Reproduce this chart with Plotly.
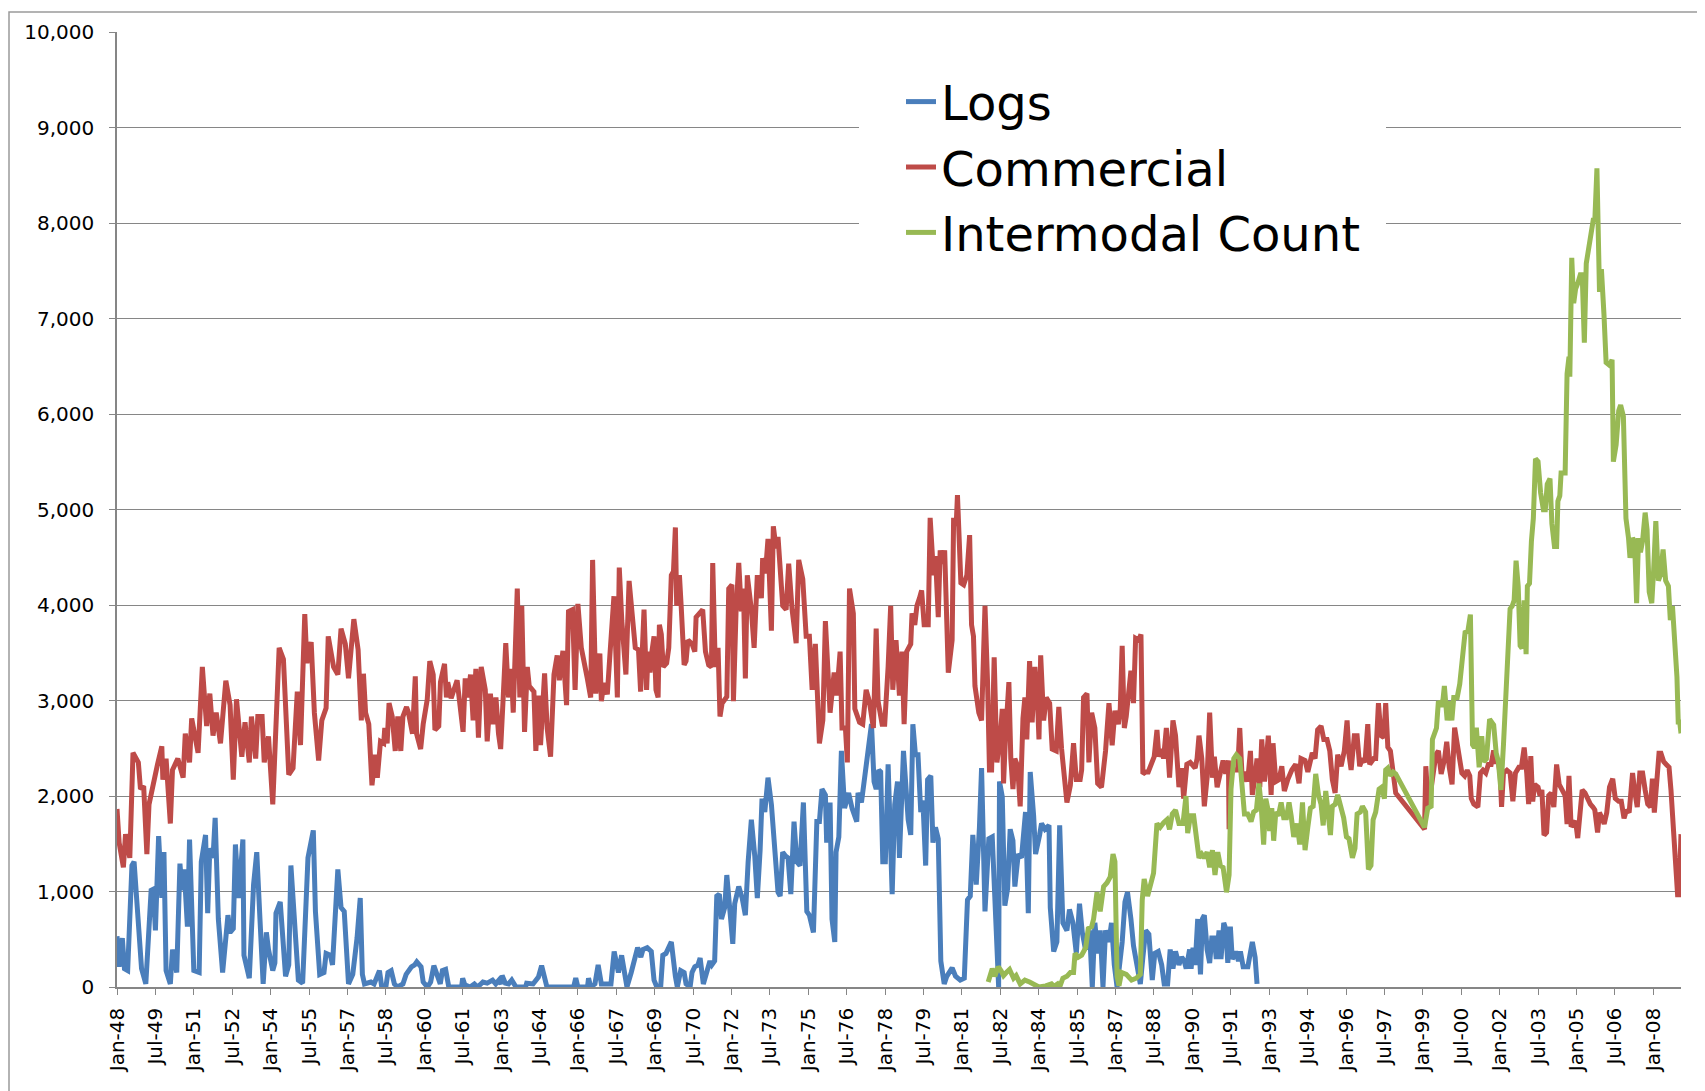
import plotly.graph_objects as go

# x positions are months counted from Jan-48 (0 = Jan-48, 18 = Jul-49, ...)
TICK_LABELS = ["Jan-48", "Jul-49", "Jan-51", "Jul-52", "Jan-54", "Jul-55", "Jan-57", "Jul-58",
               "Jan-60", "Jul-61", "Jan-63", "Jul-64", "Jan-66", "Jul-67", "Jan-69", "Jul-70",
               "Jan-72", "Jul-73", "Jan-75", "Jul-76", "Jan-78", "Jul-79", "Jan-81", "Jul-82",
               "Jan-84", "Jul-85", "Jan-87", "Jul-88", "Jan-90", "Jul-91", "Jan-93", "Jul-94",
               "Jan-96", "Jul-97", "Jan-99", "Jul-00", "Jan-02", "Jul-03", "Jan-05", "Jul-06",
               "Jan-08"]
TICK_MONTHS = [0, 18, 36, 54, 72, 90, 108, 126, 144, 162, 180, 198, 216, 234, 252, 270, 288,
               306, 324, 342, 360, 378, 396, 414, 432, 450, 468, 486, 504, 522, 540, 558, 576,
               594, 612, 630, 648, 666, 684, 702, 720]

SERIES_NAMES = ["Logs", "Commercial", "Intermodal Count"]

LOGS = [
    (0, 532), (1, 212), (2.5, 512), (3.5, 192), (5, 172), (7, 1272), (8, 1312), (10, 592), (11.5, 192),
    (13.5, 32), (16, 1012), (17, 1024), (18, 592), (19.5, 1580), (21, 932), (22, 1412), (23, 172),
    (25, 32), (26, 392), (28, 152), (29.5, 1292), (30.5, 1012), (31.5, 1232), (33, 632), (34, 1544),
    (36, 172), (38.5, 152), (39.5, 1312), (41.5, 1592), (42.5, 772), (43.5, 1452), (45, 1352),
    (46, 1772), (47.5, 712), (49.5, 152), (52, 752), (53, 572), (54.5, 612), (55.5, 1492), (57, 932),
    (59, 1544), (59.5, 332), (62, 92), (64, 1072), (65.5, 1412), (67, 712), (68.5, 32), (70, 572),
    (71, 392), (73, 172), (74, 252), (74.5, 772), (76.5, 892), (79, 112), (80.5, 232), (81.5, 1272),
    (83.5, 452), (85, 72), (87, 40), (89.5, 1352), (92, 1640), (93, 792), (95, 132), (97, 152),
    (98, 352), (100, 332), (101, 232), (103.5, 1232), (105, 832), (106.5, 792), (108.5, 32),
    (110.5, 132), (112.5, 512), (114, 932), (115, 132), (116, 32), (119, 52), (120.5, 32), (123, 172),
    (124, 12), (126, 0), (127, 152), (128.5, 172), (130, 32), (131.5, 0), (134, 32), (135.5, 132),
    (138, 212), (139.5, 232), (140.5, 264), (142.5, 212), (143.5, 52), (145.5, 0), (147, 52),
    (148.5, 224), (150, 120), (151.5, 32), (152.5, 172), (154, 184), (155.5, 0), (161.5, 0), (162, 92),
    (163, 24), (165.5, 0), (167.5, 32), (169, 0), (171.5, 52), (173.5, 40), (176, 72), (177.5, 32),
    (179, 72), (180, 32), (180.5, 120), (182, 40), (183.5, 32), (185, 72), (187, 0), (191.5, 0),
    (192, 40), (195, 32), (197.5, 104), (199, 224), (200.5, 52), (201.5, 0), (214, 0), (215, 92),
    (216, 0), (220.5, 0), (221, 92), (222, 0), (224, 32), (225.5, 232), (227, 32), (231.5, 32),
    (233, 372), (235, 152), (236.5, 332), (237.5, 192), (239, 0), (241, 152), (244, 412),
    (245.5, 312), (246.5, 392), (248.5, 412), (250.4, 372), (251.7, 72), (253, 0), (254.8, 0),
    (255.8, 332), (257.3, 352), (259.8, 472), (261.7, 112), (262.6, 0), (264.2, 172), (265.8, 152),
    (266.7, 32), (268.6, 0), (269.5, 152), (270.8, 212), (272.3, 232), (273.3, 304), (274.8, 32),
    (276.4, 152), (277.9, 272), (278.8, 232), (280.1, 272), (281.1, 952), (282.3, 972), (283.3, 712),
    (284.8, 832), (285.8, 1172), (287.3, 792), (288.6, 452), (289.5, 872), (291.4, 1052), (293, 932),
    (294.5, 752), (295.8, 1312), (297.3, 1752), (298.9, 1372), (300.1, 932), (301.4, 1432),
    (302.3, 1972), (303.6, 1832), (305.1, 2192), (306.7, 1912), (308.6, 1392), (309.8, 992),
    (310.8, 952), (312, 1412), (313.3, 1372), (314.5, 1352), (315.8, 972), (317.3, 1732),
    (318.6, 1312), (320.1, 1272), (321.7, 1932), (323.3, 792), (324.5, 752), (326.4, 572),
    (328, 1732), (329.2, 1732), (330.4, 2072), (332, 2012), (332.6, 1512), (334.2, 1932), (335.1, 712),
    (336.4, 472), (337, 1412), (338.3, 1572), (339.5, 2472), (341, 1872), (342.9, 2032), (344.5, 1872),
    (346.7, 1732), (347.3, 2032), (348.9, 1932), (350.4, 2212), (352.3, 2472), (353.6, 2752),
    (354.8, 2152), (355.8, 2072), (357, 2272), (357.9, 2252), (358.9, 1312), (360.1, 1312),
    (361.4, 2332), (363.3, 972), (364.5, 1912), (365.8, 2152), (366.7, 1352), (368.6, 2472),
    (370.8, 1752), (372, 1592), (373, 2752), (374.2, 2432), (375.4, 2432), (376.7, 1832),
    (377.7, 1952), (379, 1272), (379.9, 2172), (381.4, 2212), (382.4, 1512), (383.6, 1672),
    (384.9, 1552), (386.1, 272), (387.7, 32), (388.9, 112), (391.4, 200), (393, 112), (395.2, 72),
    (397.1, 92), (398.6, 912), (399.9, 952), (401.1, 1592), (402.7, 1072), (404.2, 1672),
    (405.2, 2292), (406.8, 792), (408.6, 1552), (410.2, 1572), (411.1, 1112), (412.4, 232),
    (413.2, 0), (413.6, 2152), (414.9, 1992), (416.1, 852), (417.4, 1032), (418.6, 1652),
    (419.9, 1532), (420.8, 1052), (422.4, 1392), (423.9, 1352), (425.8, 1832), (427.1, 772),
    (428, 2252), (429.6, 1792), (430.5, 1392), (432.4, 1592), (433.3, 1712), (434.9, 1652),
    (436.8, 1692), (437.4, 832), (439, 372), (440.5, 472), (441.8, 1692), (443.3, 672), (445.2, 592),
    (446.4, 812), (448, 672), (449.6, 352), (451.1, 872), (452.4, 572), (453.9, 392), (455.8, 592),
    (457.1, 0), (458.3, 672), (459.6, 352), (460.8, 592), (462.1, 0), (463.3, 592), (464.9, 472),
    (466.1, 672), (467.4, 232), (468.7, 0), (469.9, 232), (471.1, 472), (472.4, 892), (473.6, 992),
    (475.2, 712), (476.4, 432), (478, 232), (479.6, 32), (480.8, 312), (482.1, 592), (483.6, 552),
    (485.2, 72), (486.4, 352), (488, 372), (489.6, 232), (490.8, 32), (492.4, 32), (493.6, 392),
    (494.9, 192), (496.1, 372), (497.7, 232), (499, 312), (500.2, 272), (501.1, 192), (502.7, 392),
    (503.4, 192), (504.3, 412), (505.3, 232), (506.5, 712), (507.8, 132), (508.7, 712), (509.6, 752),
    (510.9, 392), (512.1, 252), (513.1, 512), (514.3, 512), (515.2, 292), (516.5, 592), (517.4, 292),
    (518.7, 672), (519.6, 612), (520.6, 252), (521.8, 632), (522.7, 292), (524.3, 372), (525.6, 272),
    (526.5, 372), (527.8, 212), (530, 212), (531.2, 352), (532.1, 472), (533.4, 312), (534.3, 32),
]

COMMERCIAL = [
    (0, 1864), (1, 1512), (3, 1252), (4, 1600), (6, 1352), (7.5, 2452), (10, 2352), (11, 2072),
    (12.5, 2104), (14, 1392), (15, 1912), (17, 2152), (19, 2332), (21, 2520), (21.5, 2172), (23, 2392),
    (25, 1712), (26, 2272), (28.5, 2392), (31, 2192), (32, 2652), (34, 2352), (35, 2812), (38, 2452),
    (40, 3352), (42, 2732), (43.5, 3072), (45, 2632), (46.5, 2872), (48.5, 2552), (51, 3208),
    (53, 2952), (54.5, 2172), (56, 3012), (58.5, 2412), (60, 2772), (62, 2352), (63, 2832), (65, 2392),
    (66, 2832), (68, 2832), (69, 2352), (71, 2624), (73, 1912), (74.5, 2912), (76, 3552), (78, 3432),
    (80.5, 2224), (82.5, 2292), (84.5, 3092), (86, 2532), (87, 3492), (88, 3904), (89, 3392),
    (91, 3612), (92.5, 2872), (94.5, 2372), (96, 2792), (98, 2920), (99, 3672), (101.5, 3352),
    (103.5, 3272), (105, 3752), (107, 3592), (108.5, 3232), (111, 3852), (113, 3532), (114.5, 2792),
    (115.5, 3280), (116.5, 2872), (118, 2752), (119.5, 2112), (121, 2432), (122, 2192), (123.5, 2572),
    (125, 2552), (125.5, 2712), (126.6, 2552), (127.5, 2972), (129, 2832), (130.4, 2472),
    (131.6, 2832), (133, 2472), (134, 2832), (135.7, 2932), (136.6, 2872), (138.5, 2652),
    (139.8, 3252), (140.4, 2652), (142.3, 2492), (143.5, 2752), (145.4, 3012), (146.6, 3412),
    (148.2, 3272), (149, 2692), (150.8, 2732), (151.6, 3192), (153.5, 3384), (154.4, 3032),
    (155, 3192), (156.6, 3024), (159.4, 3212), (161.3, 2872), (162.2, 2672), (163.2, 3232),
    (164.4, 3032), (165.7, 3272), (166.9, 2792), (168.2, 3332), (169.4, 2612), (170.7, 3352),
    (172.6, 3112), (173.5, 2572), (175, 3072), (176.3, 2752), (177.6, 3032), (178.8, 2652),
    (179.8, 2492), (181, 3032), (182.2, 3600), (183.5, 3032), (184.8, 3332), (185.7, 2872),
    (187.6, 4172), (188.8, 3032), (189.7, 3992), (191, 2672), (192.3, 3352), (193.2, 3152),
    (195.4, 3092), (196.3, 2472), (197.6, 3052), (198.5, 2532), (200.4, 3284), (201.6, 2712),
    (203.2, 2412), (204.8, 3272), (206.3, 3472), (207.3, 3212), (209, 3520), (210.7, 2952),
    (211.6, 3932), (213.5, 3952), (214.7, 3112), (216, 4012), (217.6, 3552), (220.4, 3232),
    (222, 3032), (222.9, 4472), (224.4, 3072), (226.3, 3492), (227, 2992), (228.2, 3184),
    (229.8, 3064), (231, 3472), (232.9, 4092), (234.5, 3032), (235.4, 4392), (236.6, 3832),
    (238.5, 3272), (240, 4252), (241.6, 3832), (242.9, 3552), (244.4, 3532), (245.4, 3092),
    (247, 3952), (248.2, 3112), (248.9, 3512), (249.8, 3292), (250.7, 3512), (251.7, 3672),
    (252.6, 3112), (253.6, 3032), (254.2, 3792), (255.1, 3692), (256, 3352), (257.6, 3392),
    (258.6, 3552), (259.8, 4312), (260.8, 4352), (261.7, 4812), (262.3, 3992), (263.6, 4312),
    (264.5, 3952), (265.8, 3372), (266.7, 3412), (267.6, 3632), (269.5, 3592), (270.8, 3512),
    (271.4, 3872), (272.6, 3912), (274.5, 3952), (275.8, 3512), (277.3, 3372), (278.6, 3352),
    (279.2, 4440), (280.4, 3352), (281.7, 3552), (282.6, 2832), (283.6, 2972), (285.8, 3040),
    (286.7, 4172), (288.2, 4212), (288.9, 2992), (290.1, 3912), (291.4, 4440), (292.6, 3932),
    (293.6, 4172), (294.5, 3232), (295.4, 4312), (297.3, 3952), (298.6, 3552), (300.1, 4312),
    (302, 4072), (302.6, 4492), (303.9, 4332), (305.1, 4692), (306.7, 3732), (307.6, 4824),
    (308.9, 4592), (309.8, 4712), (312, 3992), (313.6, 3952), (314.8, 4432), (316.4, 3952),
    (318.3, 3600), (319.5, 4472), (321.4, 4272), (323, 3672), (324.5, 3672), (325.8, 3112),
    (327.3, 3592), (329.2, 2552), (330.8, 2792), (332, 3832), (334.2, 2872), (336.1, 3292),
    (337.3, 3052), (338.9, 3512), (339.8, 2712), (341.4, 2712), (342.3, 2352), (343.3, 4172),
    (345.1, 3912), (345.8, 2912), (348, 2772), (349.5, 2752), (351.1, 3112), (352.6, 2992),
    (354.5, 2712), (355.8, 3752), (356.7, 2992), (358.6, 2752), (359.8, 2752), (361.4, 3352),
    (362.6, 3992), (363.6, 3112), (365.1, 3632), (366.7, 3052), (367.9, 3512), (368.9, 2752),
    (370.1, 3512), (372, 3592), (372.6, 3912), (373.9, 3792), (374.9, 3992), (376.1, 4072),
    (377.1, 4152), (378.3, 3792), (380.2, 3792), (381.1, 4912), (382.7, 4312), (383.6, 4512),
    (384.9, 3872), (385.8, 4572), (386.8, 4432), (387.9, 4572), (389.6, 3292), (391.4, 3632),
    (392.1, 4912), (393.3, 4832), (393.9, 5152), (395.5, 4232), (396.8, 4212), (398.3, 4312),
    (399.6, 4732), (400.5, 3792), (401.4, 3672), (402.1, 3152), (403.9, 2872), (405.2, 2792),
    (406.8, 3992), (408, 3192), (408.9, 2272), (409.9, 2272), (411.1, 3452), (412.4, 2352),
    (414, 2632), (414.9, 2912), (415.5, 2132), (416.4, 2612), (418, 3192), (418.9, 2392),
    (419.9, 2072), (420.8, 2392), (422.1, 2312), (423.3, 1892), (424.6, 2812), (425.5, 3032),
    (426.4, 2592), (427.7, 3412), (428.9, 2772), (430.2, 3352), (431.4, 2992), (432.1, 2592),
    (432.9, 3472), (434.3, 2792), (435.5, 3032), (437.1, 2972), (438.3, 2492), (440.2, 2472),
    (441.4, 2932), (442.7, 2492), (443.9, 2152), (445.2, 1932), (446.8, 2112), (448.3, 2552),
    (449.6, 2172), (451.4, 2172), (452.1, 2272), (453, 3032), (454.6, 3072), (455.5, 2352),
    (456.8, 2872), (458.3, 2712), (459.6, 2132), (461.4, 2092), (463.3, 2472), (464.9, 2972),
    (466.4, 2532), (467.7, 2892), (469.3, 2752), (470.2, 2912), (471.1, 3572), (472.1, 2712),
    (473, 2832), (474.3, 3112), (475.2, 3312), (476.4, 2972), (477.4, 3652), (478.9, 3632),
    (479.9, 3692), (480.8, 2232), (482.1, 2252), (483.3, 2252), (484.9, 2332), (486.1, 2412),
    (487.4, 2692), (488.3, 2412), (489.6, 2492), (490.5, 2392), (491.8, 2712), (493.3, 2192),
    (494.9, 2792), (496.1, 2632), (497.7, 2092), (499, 2292), (499.9, 1972), (501.4, 2332),
    (503, 2352), (505.3, 2292), (506.2, 2392), (507.1, 2632), (508.4, 2392), (509.6, 1892),
    (510.9, 2192), (512.1, 2872), (513.4, 2192), (514.3, 2412), (515.6, 2092), (516.8, 2232),
    (518.4, 2372), (519.6, 2232), (520.9, 2372), (521.2, 1652), (522.1, 2292), (523.7, 2272),
    (525.2, 2272), (526.2, 2712), (527.4, 2152), (528.7, 2252), (529.9, 2152), (531.2, 2472),
    (532.1, 2012), (533.4, 2212), (534.3, 2392), (535.6, 2092), (536.5, 2592), (537.8, 2152),
    (538.7, 2392), (539.6, 2632), (540.9, 2012), (541.8, 2552), (543.1, 2152), (544.6, 2172),
    (545.9, 2312), (547.1, 2052), (548.7, 2172), (550.6, 2272), (552.4, 2332), (554, 2132),
    (554.9, 2392), (556.8, 2372), (558.1, 2252), (559.3, 2392), (560.2, 2452), (561.5, 2392),
    (562.7, 2692), (564.3, 2732), (565.6, 2592), (567.1, 2592), (568.4, 2472), (569.6, 2172),
    (570.9, 2032), (572.1, 2432), (573.7, 2312), (575.2, 2472), (576.5, 2792), (577.4, 2432),
    (578.4, 2272), (579.9, 2632), (581.2, 2632), (582.4, 2312), (583.7, 2392), (584.9, 2352),
    (586.2, 2752), (587.1, 2332), (589, 2392), (589.9, 2392), (591.2, 2972), (592.4, 2632),
    (593.7, 2612), (594.6, 2972), (595.6, 2512), (596.8, 2472), (598.1, 2232), (599.3, 2032),
    (612.8, 1652), (613.4, 2312), (614.6, 1872), (616.5, 2232), (618.1, 2432), (619.3, 2472),
    (620.6, 2232), (622.2, 2389), (623.2, 2567), (624.4, 2300), (625.7, 2122), (626.9, 2715),
    (628.1, 2567), (629.1, 2418), (630.3, 2241), (631.6, 2211), (632.8, 2270), (634, 2211),
    (634.7, 1974), (635.9, 1915), (637.8, 1885), (639, 2241), (640.2, 2270), (641.5, 2241),
    (642.7, 2330), (644, 2330), (645.2, 2478), (646.1, 2359), (647.4, 2359), (648.3, 2211),
    (648.9, 1885), (649.8, 2241), (651.4, 2270), (652.9, 2241), (654.2, 1944), (655.4, 2241),
    (657, 2300), (658.2, 2300), (659.5, 2507), (660.7, 2241), (661.6, 1915), (662.6, 2418),
    (663.5, 1944), (664.4, 2122), (666, 2093), (666.9, 2004), (667.8, 2063), (668.8, 1589),
    (670, 1618), (671, 2004), (672.2, 2033), (673.4, 1885), (674.7, 2330), (675.9, 2122),
    (677.1, 2063), (678.7, 2004), (679.6, 1707), (680.5, 2211), (681.5, 1678), (682.7, 1707),
    (683.6, 1737), (684.6, 1559), (685.8, 1796), (686.7, 2063), (688, 2033), (689.2, 1974),
    (690.5, 1915), (691.7, 1885), (692.6, 1855), (693.9, 1618), (694.8, 1826), (696, 1766),
    (697, 1707), (698.2, 1826), (699.5, 2093), (701, 2181), (702.2, 1974), (703.8, 1944),
    (705, 1944), (706.3, 1766), (707.5, 1855), (708.7, 1826), (710.3, 2241), (711.2, 2063),
    (712.5, 1885), (713.7, 2241), (715, 2241), (716.2, 2063), (717.4, 1915), (718.7, 1885),
    (719.6, 2181), (720.5, 1826), (721.5, 2122), (722.7, 2448), (723.6, 2448), (724.9, 2359),
    (726.1, 2330), (727.4, 2300), (728.3, 2063), (729.5, 1648), (730.5, 1292), (731.4, 966),
    (732.1, 966), (733, 1600),
]

INTERMODAL = [
    (408.3, 52), (410.2, 192), (411.4, 112), (413, 212), (414.3, 172), (415.5, 120), (416.8, 152),
    (418.3, 184), (420.2, 92), (421.4, 120), (423.3, 32), (425.5, 72), (427.7, 52), (429.6, 24),
    (432.1, 0), (435.2, 12), (438, 32), (439.2, 8), (440.8, 32), (441.8, 0), (443.3, 92), (445.2, 112),
    (446.8, 152), (448.3, 152), (449, 352), (450.5, 312), (452.1, 332), (454, 412), (455.2, 612),
    (456.8, 632), (457.7, 712), (459.3, 992), (460.8, 792), (462.4, 1052), (464, 1092), (465.5, 1152),
    (466.8, 1392), (467.7, 1312), (468.7, 112), (469.6, 12), (470.8, 152), (473, 132), (475.5, 72),
    (477.7, 92), (479.6, 132), (480.5, 912), (481.4, 1132), (483, 952), (484.6, 1112), (485.8, 1192),
    (487.4, 1712), (488.9, 1672), (490.5, 1720), (492.1, 1752), (493.3, 1652), (494.6, 1812),
    (496.1, 1852), (497.7, 1712), (499.6, 1712), (501, 2000), (501.8, 1612), (503.1, 1792),
    (504.6, 1792), (505.9, 1512), (507.1, 1352), (508.4, 1392), (509.6, 1352), (510.9, 1412),
    (512.1, 1252), (513.4, 1432), (514.6, 1172), (515.9, 1412), (517.1, 1272), (518.4, 1252),
    (519.3, 1072), (520, 992), (521.2, 1172), (522.1, 2072), (523.4, 2392), (524.6, 2432),
    (526.2, 2392), (527.4, 2112), (528.4, 1812), (529.9, 1812), (531.5, 1732), (532.7, 1832),
    (534, 1852), (535.2, 2132), (536.2, 1912), (537.4, 1492), (538.4, 1972), (539.3, 1872),
    (540.2, 1632), (541.2, 1872), (542.1, 1532), (543.1, 1832), (544.3, 1792), (545.6, 1932),
    (546.8, 1772), (548.1, 1772), (549.3, 1932), (550.3, 1792), (551.5, 1572), (553.1, 1712),
    (554.3, 1492), (555.6, 1932), (556.8, 1432), (558.1, 1672), (559.3, 1872), (560.6, 1892),
    (561.8, 2232), (563.1, 2012), (564.3, 1912), (565.3, 1692), (566.5, 2052), (567.4, 1872),
    (568.7, 1592), (569.6, 1892), (570.9, 1912), (572.1, 2012), (573.7, 1892), (574.9, 1772),
    (576.2, 1572), (577.4, 1552), (579, 1352), (580.2, 1452), (581.2, 1812), (582.7, 1832),
    (583.7, 1892), (585.2, 1832), (586.5, 1232), (587.7, 1272), (588.7, 1752), (589.9, 1832),
    (591.5, 2072), (592.7, 2092), (594, 1972), (594.6, 2272), (595.6, 2292), (596.8, 2212),
    (598.1, 2252), (599.3, 2232), (612.8, 1672), (614.3, 1872), (615.9, 1892), (616.5, 2592),
    (618.4, 2712), (619.3, 2992), (620.6, 2952), (621.2, 2952), (622.1, 3152), (623.4, 2792),
    (624.6, 2992), (625.6, 2792), (626.5, 3032), (628.1, 3032), (629.3, 3172), (630.2, 3352),
    (631.8, 3712), (633.1, 3723), (634.3, 3900), (635.3, 2537), (636.2, 2507), (637.1, 2715),
    (638.4, 2300), (639.6, 2626), (640.5, 2359), (641.8, 2389), (643.3, 2804), (645.2, 2745),
    (646.4, 2448), (647.4, 2359), (648.6, 2063), (649.8, 2537), (651.4, 3248), (652.9, 3960),
    (653.9, 3989), (654.8, 4049), (655.7, 4464), (656.7, 4197), (657.6, 3574), (658.5, 3545),
    (659.5, 4049), (660.4, 3486), (661, 4197), (662, 4226), (662.9, 4671), (663.8, 4908),
    (664.8, 5531), (666, 5501), (667.2, 5175), (668.5, 4997), (669.4, 4997), (670.3, 5264),
    (671.6, 5323), (672.5, 4849), (673.7, 4612), (674.7, 4612), (675.3, 5086), (676.2, 5145),
    (676.8, 5382), (678.7, 5382), (679.6, 6420), (680.5, 6598), (680.9, 6390), (681.8, 7635),
    (682.7, 7161), (683.6, 7309), (684.6, 7368), (685.8, 7457), (686.7, 7457), (687.7, 6746),
    (688.6, 7576), (689.8, 7753), (691.1, 7902), (692, 8050), (692.6, 8020), (693.6, 8572),
    (694.8, 7279), (695.7, 7517), (696.9, 7042), (697.9, 6538), (699.5, 6509), (700.7, 6568),
    (701.3, 5501), (702.6, 5679), (703.8, 6034), (704.7, 6094), (706, 5975), (707.2, 4908),
    (708.4, 4701), (709.1, 4493), (710.3, 4701), (711.2, 4671), (712.2, 4019), (713.1, 4701),
    (714, 4552), (715, 4671), (716.2, 4967), (717.1, 4790), (718.1, 4138), (719.3, 4019),
    (720.2, 4375), (721.2, 4879), (722.4, 4256), (723.4, 4315), (724.6, 4582), (725.8, 4256),
    (727.1, 4197), (728, 3841), (729, 3989), (730.2, 3604), (731.1, 3248), (731.7, 2774),
    (732.4, 2774), (733, 2656),
]

COLORS = ["#4A7EBB", "#BE4B48", "#98B954"]
GRID = "#868686"
FONT = "DejaVu Sans"

fig = go.Figure()
for name, data, color in zip(SERIES_NAMES, [LOGS, COMMERCIAL, INTERMODAL], COLORS):
    pts = sorted(data)
    fig.add_trace(go.Scatter(
        x=[p[0] for p in pts], y=[p[1] for p in pts], name=name, mode="lines",
        line=dict(color=color, width=5), hoverinfo="skip",
    ))

# page offset of 8px (body margin) is compensated in the margins
W, H = 1705, 1091
L, T = 109, 21
pw, ph = 1564, 958
R, B = W - L - pw, H - T - ph


def rx(dx):
    """paper x from pixel offset relative to plot left edge"""
    return dx / pw


def ry(dy):
    """paper y from pixel offset below plot top edge"""
    return 1 - dy / ph


fig.update_layout(
    width=W, height=H,
    margin=dict(l=L, r=R, t=T, b=B, pad=0),
    paper_bgcolor="white", plot_bgcolor="white",
    font=dict(family=FONT, color="black"),
    showlegend=True,
    legend=dict(
        x=rx(784), y=ry(32), xanchor="left", yanchor="top",
        bgcolor="white", borderwidth=0,
        font=dict(family=FONT, size=48, color="black"),
        itemwidth=30, tracegroupgap=0,
    ),
    xaxis=dict(
        range=[0, 733], tickmode="array", tickvals=TICK_MONTHS, ticktext=TICK_LABELS,
        tickangle=-90, ticks="outside", ticklen=6, tickcolor=GRID, tickwidth=1.3,
        showline=True, linecolor=GRID, linewidth=1.5, showgrid=False, zeroline=False,
        tickfont=dict(family=FONT, size=20, color="black"), ticklabelstandoff=5,
    ),
    yaxis=dict(
        range=[0, 10000], dtick=1000, tick0=0, tickformat=",d",
        ticks="outside", ticklen=6, tickcolor=GRID, tickwidth=1.3,
        showline=True, linecolor=GRID, linewidth=1.5,
        showgrid=True, gridcolor=GRID, gridwidth=1.4, zeroline=False,
        tickfont=dict(family=FONT, size=20, color="black"), ticklabelstandoff=11,
    ),
    shapes=[
        dict(type="rect", xref="paper", yref="paper",
             x0=rx(-L + 1), x1=rx(W - L - 1), y0=ry(H - T - 1), y1=ry(-T + 1),
             line=dict(color="#9a9a9a", width=1.5), fillcolor="rgba(0,0,0,0)", layer="below"),
        dict(type="rect", xref="x", yref="y",
             x0=742 / pw * 733, x1=1269 / pw * 733,
             y0=(ph - 253) / ph * 10000, y1=(ph - 21) / ph * 10000,
             line=dict(width=0), fillcolor="white", layer="between"),
    ],
)

fig.write_html("out.html")
